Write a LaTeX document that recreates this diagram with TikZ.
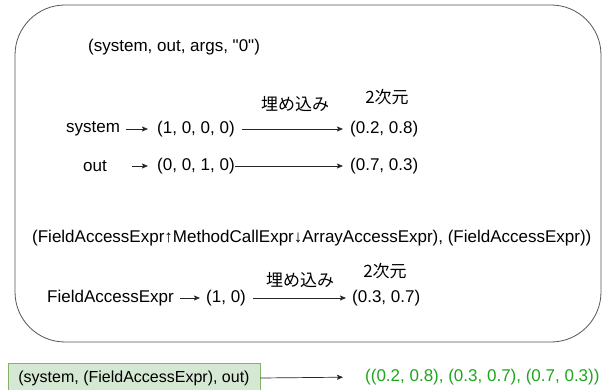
\documentclass[tikz,border=0pt]{standalone}
\usepackage{fontspec}
\setmainfont{Liberation Sans}[Ligatures=TeXOff]
\newfontfamily\jpfont{Noto Sans CJK JP}
\usetikzlibrary{arrows.meta}
\definecolor{framegray}{HTML}{555555}
\definecolor{boxfill}{HTML}{D5E8D4}
\definecolor{boxline}{HTML}{82B366}
\definecolor{resultgreen}{HTML}{1EA51E}
\tikzset{
  lbl/.style={inner sep=0pt, anchor=west, font=\fontsize{17}{20}\selectfont},
  jlbl/.style={inner sep=0pt, font=\jpfont\fontsize{17}{20}\selectfont},
  conn/.style={draw=black!85, line width=0.7pt, -{Stealth[length=6pt,width=5pt,inset=1.2pt]}},
}
\begin{document}
\begin{tikzpicture}[x=1pt,y=-1pt]
\useasboundingbox (0,0) rectangle (605,390);

% outer frame
\draw[framegray, line width=0.8pt, rounded corners=50pt] (15,5) rectangle (601,342);

% first expression
\node[lbl] (title) at (88,47) {(system, out, args, "0")};
\node[jlbl] (dim1) at (387,97) {2次元};
\node[jlbl] (emb1) at (295,104) {埋め込み};

\node[lbl] (sys) at (66,129) {system};
\node[lbl] (sysvec) at (157,129) {(1, 0, 0, 0)};
\node[lbl] (syspt) at (350,129) {(0.2, 0.8)};
\draw[conn, shorten <=6pt, shorten >=9pt] (sys.east) -- (sysvec.west);
\draw[conn, shorten <=7pt, shorten >=7pt] (sysvec.east) -- (syspt.west);

\node[lbl] (out) at (83,166) {out};
\node[lbl] (outvec) at (157,166) {(0, 0, 1, 0)};
\node[lbl] (outpt) at (350,166) {(0.7, 0.3)};
\draw[conn, shorten <=25pt, shorten >=9pt] (out.east) -- (outvec.west);
\draw[conn, shorten <=0pt, shorten >=7pt] (outvec.east) -- (outpt.west);

% second expression
\node[lbl] (path) at (32,238) {(FieldAccessExpr↑MethodCallExpr↓ArrayAccessExpr), (FieldAccessExpr))};
\node[jlbl] (dim2) at (385,271) {2次元};
\node[jlbl] (emb2) at (300,280) {埋め込み};

\node[lbl] (fae) at (47,298) {FieldAccessExpr};
\node[lbl] (faevec) at (206,298) {(1, 0)};
\node[lbl] (faept) at (352,298) {(0.3, 0.7)};
\draw[conn, shorten <=6pt, shorten >=6pt] (fae.east) -- (faevec.west);
\draw[conn, shorten <=7pt, shorten >=6pt] (faevec.east) -- (faept.west);

% combined result
\node[lbl, anchor=center, draw=boxline, fill=boxfill, line width=0.8pt,
      font=\fontsize{16}{19}\selectfont,
      minimum width=252pt, minimum height=30pt] (input) at (134,378) {(system, (FieldAccessExpr), out)};
\node[lbl, text=resultgreen] (result) at (365,377) {((0.2, 0.8), (0.3, 0.7), (0.7, 0.3))};
\draw[conn, shorten >=22pt] (input.east) -- (result.west);
\end{tikzpicture}
\end{document}
